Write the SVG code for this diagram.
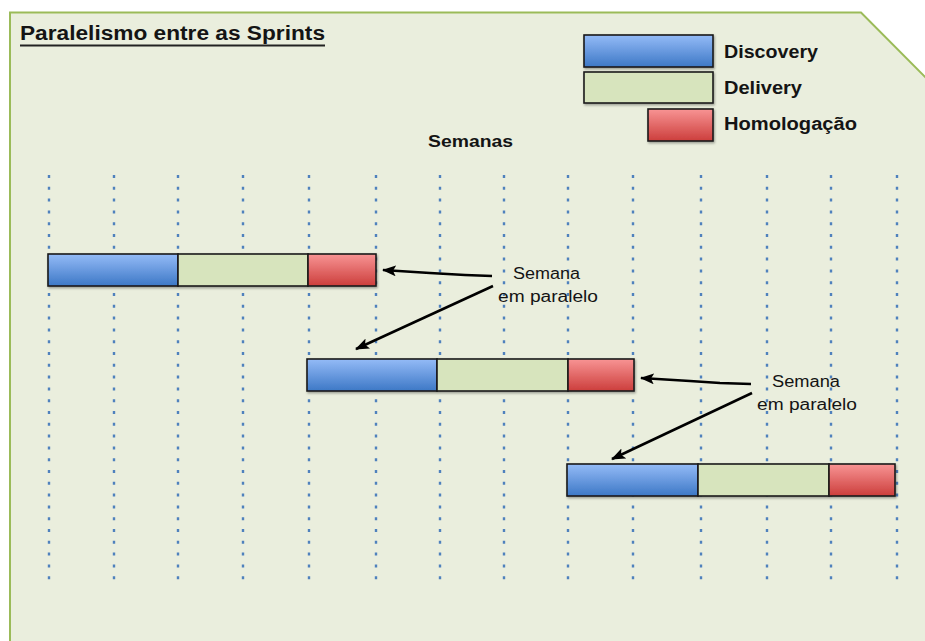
<svg xmlns="http://www.w3.org/2000/svg" width="925" height="641" viewBox="0 0 925 641">
  <defs>
    <linearGradient id="gBlue" x1="0" y1="0" x2="0" y2="1">
      <stop offset="0" stop-color="#94bbf7"/>
      <stop offset="1" stop-color="#3d78c6"/>
    </linearGradient>
    <linearGradient id="gRed" x1="0" y1="0" x2="0" y2="1">
      <stop offset="0" stop-color="#f89494"/>
      <stop offset="1" stop-color="#cc3e3c"/>
    </linearGradient>
    <filter id="sh" x="-10%" y="-30%" width="120%" height="160%">
      <feDropShadow dx="1" dy="1.5" stdDeviation="1.2" flood-color="#000" flood-opacity="0.35"/>
    </filter>
    <marker id="ah" markerUnits="userSpaceOnUse" markerWidth="14" markerHeight="11" refX="13" refY="5.5" orient="auto">
      <path d="M0,0 L14,5.5 L0,11 L3,5.5 Z" fill="#000"/>
    </marker>
  </defs>
  <style>
    .bg { fill: #eaeedd; stroke: #9bbb59; stroke-width: 2; }
    .t { font-family: "Liberation Sans", Arial, sans-serif; fill: #141414; }
    .b { font-weight: bold; }
    .blue { fill: url(#gBlue); }
    .green { fill: #d7e4bd; }
    .red { fill: url(#gRed); }
    .seg { stroke: #1a1a1a; stroke-width: 1.6; }
    .dots { stroke: #4f81bd; stroke-width: 2.4; stroke-dasharray: 3 8.8; fill: none; }
    .conn { stroke: #000; stroke-width: 2.5; fill: none; marker-end: url(#ah); }
  </style>

  <rect x="0" y="0" width="925" height="641" fill="#ffffff"/>
  <path class="bg" d="M10,660 L10,12.5 L861,12.5 L940,92 L940,660 Z"/>

  <g id="title">
    <text class="t b" x="20" y="40" font-size="20" textLength="305" lengthAdjust="spacingAndGlyphs">Paralelismo entre as Sprints</text>
    <line x1="20" y1="45.5" x2="325" y2="45.5" stroke="#222" stroke-width="1.8"/>
  </g>

  <g id="legend-discovery">
    <rect class="blue seg" x="584" y="35" width="129" height="32" filter="url(#sh)"/>
    <text class="t b" x="724" y="58" font-size="18" textLength="94" lengthAdjust="spacingAndGlyphs">Discovery</text>
  </g>
  <g id="legend-delivery">
    <rect class="green seg" x="584" y="72" width="129" height="31" filter="url(#sh)"/>
    <text class="t b" x="724" y="94" font-size="18" textLength="78" lengthAdjust="spacingAndGlyphs">Delivery</text>
  </g>
  <g id="legend-homologacao">
    <rect class="red seg" x="648" y="109" width="65" height="32" filter="url(#sh)"/>
    <text class="t b" x="724" y="130" font-size="18" textLength="133" lengthAdjust="spacingAndGlyphs">Homologação</text>
  </g>

  <g id="semanas">
    <text class="t b" x="428" y="147" font-size="17" textLength="85" lengthAdjust="spacingAndGlyphs">Semanas</text>
  </g>

  <g id="grid">
    <line class="dots" x1="49" y1="175" x2="49" y2="580"/>
    <line class="dots" x1="114" y1="175" x2="114" y2="580"/>
    <line class="dots" x1="178" y1="175" x2="178" y2="580"/>
    <line class="dots" x1="243" y1="175" x2="243" y2="580"/>
    <line class="dots" x1="309" y1="175" x2="309" y2="580"/>
    <line class="dots" x1="376" y1="175" x2="376" y2="580"/>
    <line class="dots" x1="440" y1="175" x2="440" y2="580"/>
    <line class="dots" x1="504" y1="175" x2="504" y2="580"/>
    <line class="dots" x1="568" y1="175" x2="568" y2="580"/>
    <line class="dots" x1="633" y1="175" x2="633" y2="580"/>
    <line class="dots" x1="701" y1="175" x2="701" y2="580"/>
    <line class="dots" x1="767" y1="175" x2="767" y2="580"/>
    <line class="dots" x1="831" y1="175" x2="831" y2="580"/>
    <line class="dots" x1="897" y1="175" x2="897" y2="580"/>
  </g>

  <g id="sprint1" filter="url(#sh)">
    <rect class="blue seg" x="48" y="254" width="130" height="32"/>
    <rect class="green seg" x="178" y="254" width="130" height="32"/>
    <rect class="red seg" x="308" y="254" width="68" height="32"/>
  </g>
  <g id="sprint2" filter="url(#sh)">
    <rect class="blue seg" x="307" y="359" width="130" height="32"/>
    <rect class="green seg" x="437" y="359" width="131" height="32"/>
    <rect class="red seg" x="568" y="359" width="66" height="32"/>
  </g>
  <g id="sprint3" filter="url(#sh)">
    <rect class="blue seg" x="567" y="464" width="131" height="32"/>
    <rect class="green seg" x="698" y="464" width="131" height="32"/>
    <rect class="red seg" x="829" y="464" width="66" height="32"/>
  </g>

  <g id="label1">
    <text class="t" x="513" y="279" font-size="16" textLength="67" lengthAdjust="spacingAndGlyphs">Semana</text>
    <text class="t" x="498" y="302" font-size="16" textLength="100" lengthAdjust="spacingAndGlyphs">em paralelo</text>
  </g>
  <g id="label2">
    <text class="t" x="772" y="387" font-size="16" textLength="68" lengthAdjust="spacingAndGlyphs">Semana</text>
    <text class="t" x="757" y="410" font-size="16" textLength="100" lengthAdjust="spacingAndGlyphs">em paralelo</text>
  </g>

  <g id="connectors">
    <path class="conn" d="M492,276 L465,275 L430,273 L383,270"/>
    <path class="conn" d="M493,286 L356,349"/>
    <path class="conn" d="M751,384 L720,383 L690,381 L641,378"/>
    <path class="conn" d="M752,393 L612,459"/>
  </g>
</svg>
